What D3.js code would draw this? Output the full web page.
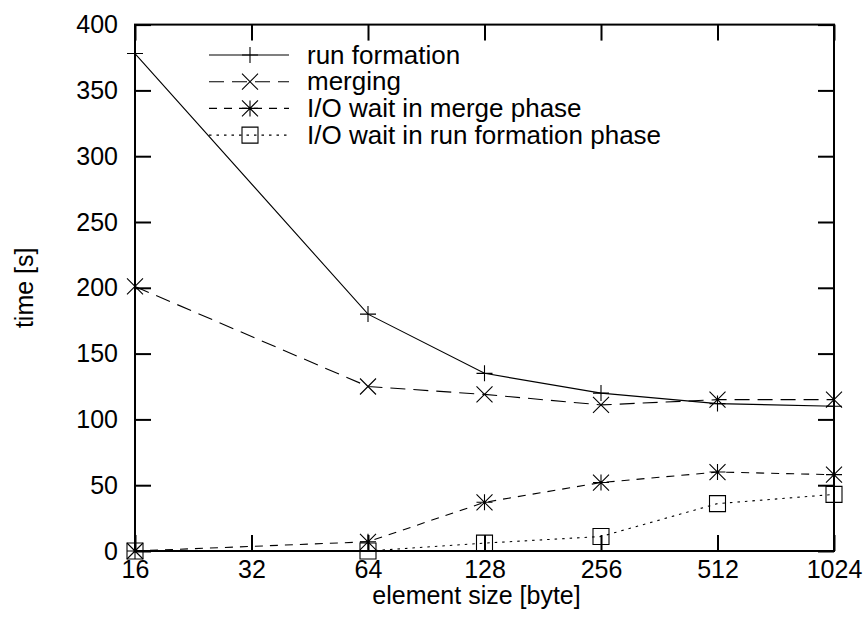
<!DOCTYPE html>
<html>
<head>
<meta charset="utf-8">
<script src="https://cdn.jsdelivr.net/npm/d3@7"></script>
<style>
  html, body { margin: 0; padding: 0; background: #fff; }
  svg text { font-family: "Liberation Sans", Arial, Helvetica, sans-serif; fill: #000; }
</style>
</head>
<body>
<svg id="chart" width="868" height="619"></svg>
<script>
// ---- data ----
const elementSizes = [16, 64, 128, 256, 512, 1024];
const xTicks = [16, 32, 64, 128, 256, 512, 1024];
const yTicks = [0, 50, 100, 150, 200, 250, 300, 350, 400];
const seriesNames = ["run formation", "merging", "I/O wait in merge phase", "I/O wait in run formation phase"];
const runFormation = [378, 180, 135, 120, 112, 110];
const merging = [201, 125, 119, 111, 115, 115];
const ioWaitMerge = [0, 7, 37, 52, 60, 58];
const ioWaitRunFormation = [0, 0, 6, 11, 36, 43];
const xLabel = "element size [byte]";
const yLabel = "time [s]";

// ---- layout ----
const pLeft = 135, pRight = 834, pTop = 24.6, pBottom = 551;
const svg = d3.select("#chart");
const x = d3.scaleLog().base(2).domain([16, 1024]).range([pLeft, pRight]);
const y = d3.scaleLinear().domain([0, 400]).range([pBottom, pTop]);

const series = [
  { name: seriesNames[0], values: runFormation, dash: null, marker: "plus" },
  { name: seriesNames[1], values: merging, dash: "15,8", marker: "cross" },
  { name: seriesNames[2], values: ioWaitMerge, dash: "8,7", marker: "star" },
  { name: seriesNames[3], values: ioWaitRunFormation, dash: "2.5,5", marker: "square" }
];

const tickFont = 25;

// axes (ticks inward)
const gx = svg.append("g").attr("transform", `translate(0,${pBottom})`)
  .call(d3.axisBottom(x).tickValues(xTicks).tickFormat(d3.format("d")).tickSizeInner(-16).tickSizeOuter(0).tickPadding(9.5));
const gxTop = svg.append("g").attr("transform", `translate(0,${pTop})`)
  .call(d3.axisTop(x).tickValues(xTicks).tickFormat("").tickSizeInner(-16).tickSizeOuter(0));
const gy = svg.append("g").attr("transform", `translate(${pLeft},0)`)
  .call(d3.axisLeft(y).tickValues(yTicks).tickSizeInner(-16).tickSizeOuter(0).tickPadding(17));
const gyRight = svg.append("g").attr("transform", `translate(${pRight},0)`)
  .call(d3.axisRight(y).tickValues(yTicks).tickFormat("").tickSizeInner(-16).tickSizeOuter(0));

[gx, gxTop, gy, gyRight].forEach(g => {
  g.select(".domain").remove();
  g.selectAll(".tick line").attr("stroke", "#000").attr("stroke-width", 2);
  g.selectAll(".tick text").attr("font-size", tickFont).attr("font-family", null).style("fill", "#000");
});

// frame
svg.append("rect").attr("x", pLeft).attr("y", pTop).attr("width", pRight - pLeft).attr("height", pBottom - pTop)
  .attr("fill", "none").attr("stroke", "#000").attr("stroke-width", 2);

// axis labels
svg.append("text").attr("x", (pLeft + pRight) / 2 - 8).attr("y", 604).attr("text-anchor", "middle")
  .attr("font-size", tickFont).text(xLabel);
svg.append("text").attr("transform", `translate(33,${(pTop + pBottom) / 2}) rotate(-90)`)
  .attr("text-anchor", "middle").attr("font-size", tickFont).text(yLabel);

// markers
const ms = 8;
function markerPath(type, cx, cy) {
  const p = d3.path();
  if (type === "plus" || type === "star") {
    p.moveTo(cx - ms, cy); p.lineTo(cx + ms, cy);
    p.moveTo(cx, cy - ms); p.lineTo(cx, cy + ms);
  }
  if (type === "cross" || type === "star") {
    p.moveTo(cx - ms, cy - ms); p.lineTo(cx + ms, cy + ms);
    p.moveTo(cx - ms, cy + ms); p.lineTo(cx + ms, cy - ms);
  }
  if (type === "square") {
    p.rect(cx - ms, cy - ms, 2 * ms, 2 * ms);
  }
  return p.toString();
}

const line = d3.line().x(d => x(d[0])).y(d => y(d[1]));
const plot = svg.append("g");
series.forEach(s => {
  const pts = elementSizes.map((e, i) => [e, s.values[i]]);
  plot.append("path").attr("d", line(pts)).attr("fill", "none").attr("stroke", "#000")
    .attr("stroke-width", 1.1).attr("stroke-dasharray", s.dash);
  plot.selectAll(null).data(pts).enter().append("path")
    .attr("d", d => markerPath(s.marker, x(d[0]), y(d[1])))
    .attr("fill", "none").attr("stroke", "#000").attr("stroke-width", 1.1);
});

// legend
const legY0 = 55, legDy = 26.7;
const leg = svg.append("g");
series.forEach((s, i) => {
  const cy = legY0 + i * legDy;
  leg.append("line").attr("x1", 209).attr("x2", 289).attr("y1", cy).attr("y2", cy)
    .attr("stroke", "#000").attr("stroke-width", 1.1).attr("stroke-dasharray", s.dash);
  leg.append("path").attr("d", markerPath(s.marker, 250, cy)).attr("fill", "none")
    .attr("stroke", "#000").attr("stroke-width", 1.1);
  leg.append("text").attr("x", 307).attr("y", cy + 8.5).attr("font-size", 26).text(s.name);
});
</script>
</body>
</html>
